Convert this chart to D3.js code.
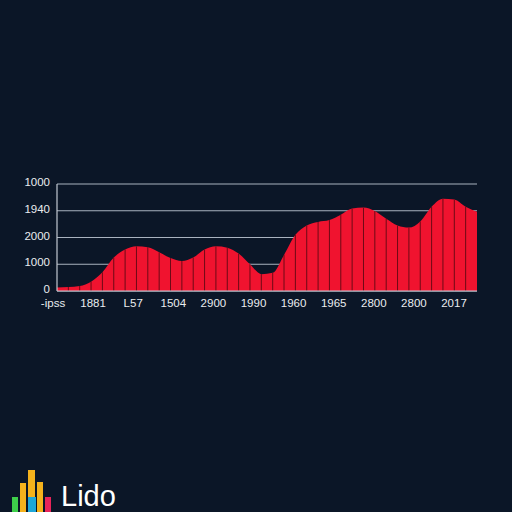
<!DOCTYPE html>
<html>
<head>
<meta charset="utf-8">
<title>Lido area chart</title>
<style>
  html, body { margin: 0; padding: 0; background: #0b1627; }
  svg { display: block; }
  text { font-family: "Liberation Sans", Arial, sans-serif; fill: #e9ecef; }
</style>
</head>
<body>
<svg width="512" height="512"></svg>
<script src="https://cdnjs.cloudflare.com/ajax/libs/d3/7.8.5/d3.min.js"></script>
<script>
// values, one per segment edge
var values = [130, 150, 190, 350, 700, 1250, 1550, 1670, 1640, 1450,
              1230, 1120, 1250, 1550, 1670, 1620, 1400, 1000, 630, 680,
              1350, 2100, 2450, 2580, 2650, 2850, 3080, 3120, 2990, 2700,
              2450, 2370, 2600, 3150, 3450, 3420, 3150, 2960];
var yTicks = [0, 1000, 2000, 3000, 4000];
var yLabels = ["0", "1000", "2000", "1940", "1000"];
var xLabels = ["-ipss", "1881", "L57", "1504", "2900", "1990", "1960", "1965", "2800", "2800", "2017"];

var svg = d3.select("svg");

var x = d3.scaleLinear().domain([0, values.length - 1]).range([57, 477]);
var y = d3.scaleLinear().domain([0, 4000]).range([291, 184]);
var xl = d3.scalePoint().domain(d3.range(xLabels.length)).range([53, 454]);

// gridlines
svg.append("g").selectAll("line")
  .data(yTicks)
  .join("line")
    .attr("x1", 57).attr("x2", 477)
    .attr("y1", function(d) { return y(d); })
    .attr("y2", function(d) { return y(d); })
    .attr("stroke", "#a9b2bf")
    .attr("stroke-width", 1);

// area
var area = d3.area()
    .x(function(d, i) { return x(i); })
    .y0(y(0))
    .y1(function(d) { return y(d); })
    .curve(d3.curveMonotoneX);

svg.append("path")
    .datum(values)
    .attr("d", area)
    .attr("fill", "#f0132f");

// segment dividers
svg.append("g").selectAll("line")
  .data(values.slice(1, -1))
  .join("line")
    .attr("x1", function(d, i) { return x(i + 1); })
    .attr("x2", function(d, i) { return x(i + 1); })
    .attr("y1", y(0))
    .attr("y2", function(d) { return y(d); })
    .attr("stroke", "#6e0a16")
    .attr("stroke-width", 1);

// axis lines
svg.append("line")
    .attr("x1", 57).attr("x2", 57)
    .attr("y1", y(4000)).attr("y2", y(0))
    .attr("stroke", "#c3cad3").attr("stroke-width", 1.2);
svg.append("line")
    .attr("x1", 57).attr("x2", 477)
    .attr("y1", y(0)).attr("y2", y(0))
    .attr("stroke", "#c3cad3").attr("stroke-width", 1.2);

// y labels
svg.append("g").selectAll("text")
  .data(yTicks)
  .join("text")
    .attr("x", 50)
    .attr("y", function(d) { return y(d) - 2; })
    .attr("dy", "0.35em")
    .attr("text-anchor", "end")
    .attr("font-size", 11.5)
    .text(function(d, i) { return yLabels[i]; });

// x labels
svg.append("g").selectAll("text")
  .data(xLabels)
  .join("text")
    .attr("x", function(d, i) { return xl(i); })
    .attr("y", 307)
    .attr("text-anchor", "middle")
    .attr("font-size", 11.5)
    .text(function(d) { return d; });

// logo
var logo = svg.append("g");
var bars = [
  { x: 12, w: 6, top: 497, c: "#3ecf4a" },
  { x: 20, w: 6, top: 483, c: "#f5b21c" },
  { x: 28, w: 7, top: 470, c: "#f5b21c" },
  { x: 28, w: 8, top: 497, c: "#1ea7d8" },
  { x: 37, w: 6, top: 482, c: "#f5b21c" },
  { x: 45, w: 6, top: 497, c: "#e8245a" }
];
logo.selectAll("rect")
  .data(bars)
  .join("rect")
    .attr("x", function(d) { return d.x; })
    .attr("y", function(d) { return d.top; })
    .attr("width", function(d) { return d.w; })
    .attr("height", function(d) { return 512 - d.top; })
    .attr("fill", function(d) { return d.c; });
logo.append("text")
    .attr("x", 61)
    .attr("y", 506)
    .attr("font-family", "Roboto, sans-serif")
    .attr("font-size", 29)
    .style("fill", "#ffffff")
    .text("Lido");
</script>
</body>
</html>
